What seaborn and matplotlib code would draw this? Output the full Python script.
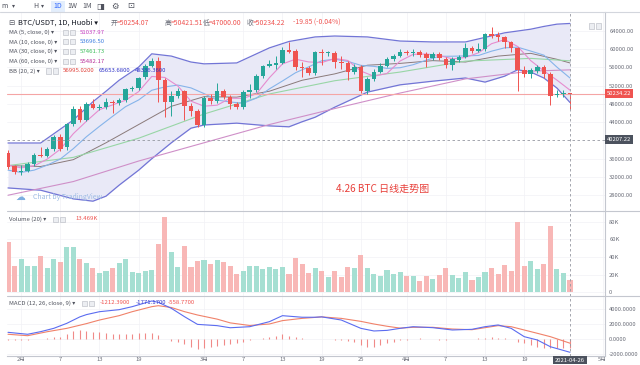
import numpy as np
import pandas as pd
import matplotlib
matplotlib.use("Agg")
import matplotlib.pyplot as plt
import seaborn as sns
from matplotlib.patches import Rectangle
from matplotlib.lines import Line2D

sns.set_style("white")
plt.rcParams["font.family"] = ["Noto Sans CJK SC", "DejaVu Sans"]

# ---- data (BTC/USDT 1D, Huobi) ----
dates = pd.date_range("2021-01-30", "2021-04-26", freq="D")

opens = [37300, 34400, 33100, 33300, 34800, 36900, 36600, 38100, 40800, 38600,
         43600, 46900, 44500, 48000, 47100, 47300, 48400, 48200, 48900, 51300,
         51500, 53900, 56300, 57400, 53300, 48400, 49800, 50800, 47600, 46500,
         43400, 49300, 48700, 50800, 49500, 48000, 47300, 50600, 51100, 54100,
         56300, 56500, 57000, 59800, 59600, 56100, 55900, 54800, 59400, 59100,
         59200, 57300, 57000, 55000, 56100, 50800, 53500, 55000, 56300, 57900,
         58500, 59400, 59200, 59400, 58900, 58100, 59000, 57900, 56500, 57700,
         58300, 60300, 59600, 60000, 63300, 63100, 62700, 61600, 60300, 55500,
         54600, 55300, 56100, 54600, 50000, 50200, 50254.07]
highs = [37900, 34700, 34600, 35200, 37200, 38500, 38600, 41200, 41500, 43900,
         47500, 47500, 48400, 49000, 48000, 49300, 48800, 49300, 51600, 52000,
         54000, 56800, 58000, 58300, 53600, 50800, 51500, 51100, 48200, 46900,
         49700, 50200, 52600, 51300, 50000, 48500, 51000, 52300, 54500, 56600,
         57600, 58500, 60500, 61600, 60000, 57200, 56300, 59700, 60000, 59700,
         59600, 58500, 57400, 56800, 56600, 54000, 55600, 56900, 58300, 59000,
         60000, 59800, 60000, 59900, 59300, 59400, 59500, 58300, 58300, 58700,
         61400, 60800, 61400, 63600, 64900, 63700, 63000, 61900, 60600, 56300,
         55800, 56500, 56500, 55000, 51100, 51100, 50421.51]
lows = [33800, 32700, 32500, 33000, 34500, 36300, 36400, 37800, 37600, 37900,
        43200, 44000, 44200, 46800, 46700, 47000, 46000, 47800, 48500, 50900,
        51000, 53400, 56000, 48400, 45100, 45400, 49300, 44500, 45400, 43000,
        43000, 48000, 48300, 49000, 47000, 46900, 47000, 49300, 50700, 53800,
        56100, 55700, 56800, 59100, 55500, 54000, 54300, 54400, 56500, 58600,
        55900, 55700, 53300, 54500, 50500, 50200, 53000, 54700, 56000, 57500,
        58200, 58700, 58600, 58300, 56100, 57600, 57600, 55800, 55400, 57300,
        58000, 59200, 59300, 59700, 62500, 61900, 60300, 59500, 50800, 54000,
        53700, 54800, 53700, 47800, 49500, 49500, 47000.00]
closes = [34200, 33100, 33300, 34800, 36800, 36600, 38100, 40800, 38100, 43600,
          46900, 44500, 48000, 47100, 47300, 48400, 48200, 48900, 51300, 51500,
          53700, 56300, 57400, 53300, 48400, 49800, 50800, 47600, 46500, 43400,
          49300, 48700, 50800, 49500, 48000, 47300, 50600, 51100, 54100, 56300,
          56700, 57000, 59800, 59500, 56100, 55900, 54800, 59400, 59200, 59300,
          57200, 57000, 55000, 56100, 50800, 53500, 55000, 56300, 57900, 58500,
          59400, 59200, 59400, 58700, 58100, 59000, 58000, 56500, 57900, 58300,
          60300, 59600, 60000, 63300, 62900, 62700, 61600, 60300, 55500, 54600,
          55500, 56100, 54600, 49800, 50200, 50400, 50234.22]
volume_k = [57.5, 29.7, 37.7, 29.7, 29.7, 41.1, 27.0, 37.7, 33.9, 51.1,
            51.4, 37.3, 33.5, 27.8, 21.3, 24.0, 27.4, 32.8, 37.3, 22.9,
            21.3, 23.6, 25.5, 54.9, 86.1, 45.3, 28.9, 52.2, 28.9, 35.4,
            36.6, 31.6, 36.2, 33.9, 30.1, 20.6, 23.6, 29.7, 29.7, 26.7,
            28.9, 26.3, 28.9, 20.2, 38.5, 31.6, 21.3, 27.0, 24.4, 17.5,
            24.0, 16.8, 28.6, 27.0, 42.3, 27.8, 20.6, 18.7, 25.1, 20.6,
            23.2, 18.3, 18.3, 12.6, 18.3, 14.9, 19.0, 27.0, 19.4, 15.6,
            22.5, 13.7, 16.8, 22.5, 27.8, 20.6, 30.5, 24.0, 80.4, 29.7,
            35.8, 25.9, 31.6, 75.4, 26.3, 21.3, 13.469]

# indicator lines, read at sample candles
ma5_at = list(range(0, 87, 2))
ma5 = [34600, 34000, 34440, 35920, 38080, 41500, 44220, 46760, 47800, 48820,
       50720, 54040, 53820, 51940, 48620, 47520, 47740, 49260, 49240, 50220,
       53760, 56780, 57820, 57220, 57080, 57980, 57540, 55220, 54080, 54700,
       57420, 58880, 58960, 58640, 57900, 58200, 59220, 61220, 62100, 60600,
       57500, 55260, 53240, 51037.97]
ma10_at = list(range(0, 87, 2))
ma10 = [33500, 33000, 33500, 34600, 35930, 38210, 40820, 43100, 45290, 47420,
        48890, 51010, 51740, 52140, 51530, 50280, 48860, 48440, 48170, 49280,
        51310, 53040, 54850, 56130, 57470, 57820, 57340, 56470, 56250, 55810,
        55950, 56610, 57600, 58450, 58470, 58540, 58640, 59580, 60310, 60450,
        59600, 58710, 56090, 53696.50]
ma30_at = [0, 10, 20, 30, 40, 50, 60, 70, 80, 86]
ma30 = [34500, 36300, 40500, 45800, 50200, 53100, 55000, 57400, 58000, 57461.73]
ma60_at = [0, 10, 20, 30, 40, 50, 60, 70, 80, 86]
ma60 = [28000, 31000, 35500, 39500, 43500, 47000, 50400, 53500, 55200, 55482.17]

bb_at = [0, 5, 10, 13, 15, 17, 20, 22, 25, 28, 30, 35, 40, 43, 45, 47, 50, 55,
         60, 65, 70, 73, 76, 78, 80, 82, 84, 86]
bb_upper = [39450, 39450, 44500, 48500, 50800, 53200, 56100, 59000, 58500, 57200,
            56800, 57000, 60300, 61700, 62200, 62700, 62900, 62700, 61800, 61600,
            61600, 62600, 63600, 64000, 64400, 65000, 65500, 65653.68]
bb_lower = [29600, 29100, 27200, 26700, 27800, 30200, 33500, 36000, 39500, 42700,
            43400, 43800, 43200, 43000, 44100, 45100, 47300, 50600, 52200, 53000,
            53700, 52800, 54100, 55500, 55000, 53700, 51500, 48336.36]
basis_at = [0, 5, 10, 15, 20, 25, 30, 35, 40, 45, 50, 55, 60, 65, 70, 75, 80, 84, 86]
bb_basis = [34500, 34300, 35800, 39500, 43500, 47500, 49600, 49500, 50800, 53200,
            54600, 56500, 56900, 57500, 57200, 58500, 59100, 57800, 56995.02]

macd_at = [0, 3, 5, 7, 9, 11, 12, 14, 17, 19, 22, 23, 25, 27, 29, 32, 34, 37, 40,
           42, 45, 47, 48, 51, 54, 56, 58, 60, 62, 65, 68, 71, 73, 75, 77, 79,
           81, 83, 86]
macd = [890, 630, 980, 1420, 2090, 2950, 3250, 3640, 3910, 4310, 5070, 4890, 4090,
        2980, 1950, 1780, 1500, 1640, 2310, 3110, 2900, 2900, 2950, 2530, 1420,
        1070, 1150, 1420, 1640, 1510, 1200, 1290, 1640, 1870, 1420, 310, -130,
        -1030, -1771.17]
signal_at = [0, 3, 6, 9, 12, 14, 17, 19, 22, 23, 25, 27, 29, 32, 34, 37, 40, 42,
             45, 47, 48, 51, 54, 56, 58, 60, 62, 65, 68, 71, 73, 75, 77, 79, 81,
             83, 86]
signal = [630, 440, 970, 1420, 2050, 2530, 3110, 3640, 4310, 4440, 4200, 3650,
          3200, 2650, 2150, 1800, 2000, 2450, 2750, 2880, 2950, 2750, 2350, 2000,
          1700, 1450, 1560, 1560, 1330, 1240, 1510, 1780, 1640, 1200, 760, 310,
          -558.77]
hist = [-80, -100, -100, -100, 20, 30, 120, 200, 300, 620,
        1070, 1160, 1070, 980, 890, 760, 670, 620, 670, 620,
        760, 840, 760, 530, 0, -220, -360, -710, -1020, -1330,
        -1160, -1020, -890, -800, -620, -490, -360, -180, 40, 180,
        310, 440, 620, 440, 270, 90, 0, 20, 0, -50,
        -100, -200, -300, -360, -800, -1020, -1020, -800, -580, -360,
        -180, -100, 50, 80, 0, -60, -80, -120, -60, 0,
        60, 40, 100, 180, 220, 160, 100, 0, -360, -580,
        -800, -1020, -1160, -1240, -1240, -1230, -1212.39]

tick_dates = ["2021-02-01", "2021-02-07", "2021-02-13", "2021-02-19", "2021-03-01",
              "2021-03-07", "2021-03-13", "2021-03-19", "2021-03-25", "2021-04-01",
              "2021-04-07", "2021-04-13", "2021-04-19", "2021-05-01"]
tick_text = ["2月", "7", "13", "19", "3月", "7", "13", "19", "25", "4月",
             "7", "13", "19", "5月"]

GREEN, RED = "#26a69a", "#ef5350"
VGREEN, VRED = "#a5dfd2", "#f8b7b6"
GRID = "#f1f2f6"
TXT = "#50535e"

W, H = 640, 365
fig = plt.figure(figsize=(6.4, 3.65), dpi=100)


def box(top, bottom, left=7, right=605):
    return [left / W, 1 - bottom / H, (right - left) / W, (bottom - top) / H]


def ft(x, y, s, **kw):
    kw.setdefault("fontsize", 4.3)
    kw.setdefault("color", TXT)
    fig.text(x / W, 1 - y / H, s, va="center", ha="left", **kw)


def icon(x, y, size=5):
    fig.add_artist(Rectangle((x / W, 1 - (y + size / 2) / H), size / W, size / H,
                             transform=fig.transFigure, fc="#eceef2", ec="#b4b7bf", lw=0.4))


ax_p = fig.add_axes(box(12, 211))
ax_v = fig.add_axes(box(211, 296))
ax_m = fig.add_axes(box(296, 356))

x = np.arange(len(dates))
o, h, l, c = map(np.array, (opens, highs, lows, closes))
up = c >= o
cols = np.where(up, GREEN, RED)
last = len(dates) - 1

# ---- price pane ----
ax_p.fill_between(bb_at, bb_lower, bb_upper, color="#e9e9f7", lw=0, zorder=1)
sns.lineplot(x=bb_at, y=bb_upper, ax=ax_p, color="#7275d6", lw=0.9, zorder=2)
sns.lineplot(x=bb_at, y=bb_lower, ax=ax_p, color="#7275d6", lw=0.9, zorder=2)
sns.lineplot(x=basis_at, y=bb_basis, ax=ax_p, color="#8a7a7a", lw=0.7, zorder=2)
sns.lineplot(x=ma60_at, y=ma60, ax=ax_p, color="#cf8fc8", lw=0.8, zorder=2)
sns.lineplot(x=ma30_at, y=ma30, ax=ax_p, color="#98d6a6", lw=0.8, zorder=2)
sns.lineplot(x=ma10_at, y=ma10, ax=ax_p, color="#86b4ea", lw=0.8, zorder=2)
sns.lineplot(x=ma5_at, y=ma5, ax=ax_p, color="#e68ccf", lw=0.8, zorder=2)

ax_p.axhline(closes[-1], color="#f5a5a5", lw=0.8, zorder=2.5)
ax_p.vlines(x, l, h, color=cols, lw=0.7, zorder=3)
ax_p.bar(x, np.maximum(np.abs(c - o), 120), bottom=np.minimum(o, c), width=0.7,
         color=cols, lw=0, zorder=4)

ax_p.set_ylim(24544, 68165)
pticks = [28000, 32000, 36000, 44000, 48000, 52000, 56000, 60000, 64000]
ax_p.set_yticks(pticks)
ax_p.set_yticklabels([f"{v:.2f}" for v in pticks])

# ---- volume pane ----
ax_v.bar(x, volume_k, width=0.78, color=np.where(up, VGREEN, VRED), lw=0, zorder=3)
ax_v.set_ylim(-4.57, 92.57)
ax_v.set_yticks([0, 20, 40, 60, 80])
ax_v.set_yticklabels(["0", "20K", "40K", "60K", "80K"])

# ---- MACD pane ----
ax_m.vlines(x, 0, hist, color="#f08a88", lw=0.8, zorder=3)
sns.lineplot(x=signal_at, y=signal, ax=ax_m, color="#f0826a", lw=0.8, zorder=4)
sns.lineplot(x=macd_at, y=macd, ax=ax_m, color="#5b6cf0", lw=0.8, zorder=4)
ax_m.set_ylim(-2267, 5733)
mticks = [-2000, 0, 2000, 4000]
ax_m.set_yticks(mticks)
ax_m.set_yticklabels([f"{v:.4f}" for v in mticks])

tpos = [(pd.Timestamp(d) - dates[0]).days for d in tick_dates]
for ax in (ax_p, ax_v, ax_m):
    ax.set_xlim(-0.153, 91.36)
    ax.set_xticks(tpos)
    ax.set_xlabel("")
    ax.set_ylabel("")
    ax.yaxis.tick_right()
    ax.tick_params(axis="y", length=0, labelsize=4.2, labelcolor="#6a6d78", pad=3)
    ax.grid(True, color=GRID, lw=0.5, zorder=0)
    ax.set_axisbelow(True)
    for s in ("left", "top", "bottom"):
        ax.spines[s].set_visible(False)
    ax.spines["right"].set_color("#c4c7cf")
    ax.spines["right"].set_linewidth(0.8)
    ax.axvline(last, color="#9598a1", lw=0.6, ls=(0, (3, 3)), zorder=6)
ax_p.tick_params(axis="x", labelbottom=False, length=0)
ax_v.tick_params(axis="x", labelbottom=False, length=0)
ax_m.set_xticklabels(tick_text)
ax_m.tick_params(axis="x", length=0, labelsize=4.2, labelcolor="#6a6d78", pad=1)
ax_m.spines["bottom"].set_visible(True)
ax_m.spines["bottom"].set_color("#c4c7cf")
ax_m.spines["bottom"].set_linewidth(0.8)

# crosshair + price labels
ax_p.axhline(40207.22, color="#9598a1", lw=0.6, ls=(0, (3, 3)), zorder=6)
ax_p.text(1.003, closes[-1], f"{closes[-1]:.2f}", transform=ax_p.get_yaxis_transform(),
          va="center", ha="left", fontsize=4.2, color="white",
          bbox=dict(boxstyle="square,pad=0.35", fc="#ef5350", ec="none"))
ax_p.text(1.003, 40207.22, "40207.22", transform=ax_p.get_yaxis_transform(),
          va="center", ha="left", fontsize=4.2, color="white",
          bbox=dict(boxstyle="square,pad=0.35", fc="#4c525e", ec="none"))
ax_m.text(last, -0.07, "2021-04-26", transform=ax_m.get_xaxis_transform(),
          va="center", ha="center", fontsize=4.2, color="white",
          bbox=dict(boxstyle="square,pad=0.3", fc="#4c525e", ec="none"))

# pane separators
for yy in (12, 211, 296):
    fig.add_artist(Line2D([0 if yy == 12 else 7 / W, 1], [1 - yy / H] * 2,
                          transform=fig.transFigure, color="#d3d6dd" if yy == 12 else "#c4c7cf",
                          lw=0.8))

# ---- toolbar ----
fig.add_artist(Rectangle((51 / W, 1 - 12 / H), 14 / W, 11 / H, transform=fig.transFigure,
                         fc="#e3eefc", ec="none"))
ft(1, 6, "m", fontsize=5.0)
ft(12, 6, "▾", fontsize=4.3)
ft(33, 6, "H", fontsize=5.0)
ft(41, 6, "▾", fontsize=4.3)
ft(53, 6, "1D", fontsize=5.0, color="#2962ff")
ft(67, 6, "1W", fontsize=5.0)
ft(82, 6, "1M", fontsize=5.0)
ft(96, 6, "◨", fontsize=6, family="DejaVu Sans")
ft(111, 6, "⚙", fontsize=6, family="DejaVu Sans")
ft(127, 6, "⊡", fontsize=6, family="DejaVu Sans")

# ---- header & legends ----
ft(8, 23, "⊟", fontsize=5.3, family="DejaVu Sans")
ft(18, 23, "BTC/USDT, 1D, Huobi ▾", fontsize=5.4, color="#131722")
for lx, lab, val in [(111, "开", opens[-1]), (165, "高", highs[-1]),
                     (203, "低", lows[-1]), (247, "收", closes[-1])]:
    ft(lx, 23, lab, fontsize=4.9, color="#6a6d78")
    ft(lx + 5.5, 23, f"={val:.2f}", fontsize=4.9, color=RED)
ft(293, 23, "-19.85 (-0.04%)", fontsize=4.9, color=RED)

ma_rows = [("MA (5, close, 0) ▾", ma5[-1], "#c43bc0"),
           ("MA (10, close, 0) ▾", ma10[-1], "#3d7fe0"),
           ("MA (30, close, 0) ▾", ma30[-1], "#3cbf5a"),
           ("MA (60, close, 0) ▾", ma60[-1], "#b8309a")]
for k, (lab, val, colr) in enumerate(ma_rows):
    yy = 32 + k * 9.8
    ft(9, yy, lab)
    icon(63, yy)
    icon(70, yy)
    ft(80, yy, f"{val:.2f}", color=colr)
ft(9, 71, "BB (20, 2) ▾")
icon(46, 71)
icon(53, 71)
ft(63, 71, f"{bb_basis[-1]:.4f}", color="#e0413a")
ft(99, 71, f"{bb_upper[-1]:.4f}", color="#2f33c8")
ft(135, 71, f"{bb_lower[-1]:.4f}", color="#2f33c8")
icon(589, 26)
icon(596, 26)

ft(15, 197, "☁", fontsize=7, color="#7eaee0", family="DejaVu Sans")
ft(33, 197, "Chart by TradingView", fontsize=5, color="#9dbbe4")
ft(336, 189, "4.26 BTC 日线走势图", fontsize=7.2, color="#e8413c")

ft(9, 219, "Volume (20) ▾")
icon(53, 219)
icon(60, 219)
ft(75, 219, f"{volume_k[-1]:.3f}K", color=RED)

ft(9, 303, "MACD (12, 26, close, 9) ▾")
icon(82, 303)
icon(89, 303)
ft(100, 303, f"{hist[-1]:.4f}", color=RED)
ft(136, 303, f"{macd[-1]:.4f}", color="#2f33c8")
ft(168, 303, f"{signal[-1]:.4f}", color=RED)

fig.savefig("out.png", dpi=100)
